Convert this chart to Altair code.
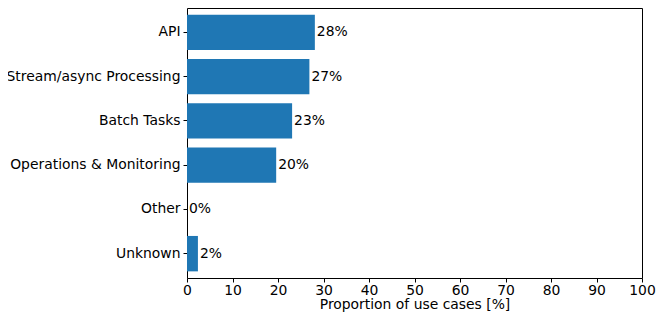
import altair as alt
import pandas as pd

categories = ["API", "Stream/async Processing", "Batch Tasks", "Operations & Monitoring", "Other", "Unknown"]
values = [28.1, 26.9, 23.1, 19.6, 0.0, 2.4]
labels = ["28%", "27%", "23%", "20%", "0%", "2%"]

df = pd.DataFrame({"category": categories, "value": values, "label": labels})

FONT = "DejaVu Sans"
FS = 13.9

y_enc = alt.Y("category:N", sort=categories, title=None,
              scale=alt.Scale(paddingInner=0.2, paddingOuter=0.15))

bars = alt.Chart(df).mark_bar(color="#1f77b4").encode(
    x=alt.X("value:Q", title="Proportion of use cases [%]",
            scale=alt.Scale(domain=[0, 100], nice=False),
            axis=alt.Axis(values=list(range(0, 101, 10)))),
    y=y_enc,
)

text = alt.Chart(df).mark_text(align="left", baseline="middle", dx=2,
                               font=FONT, fontSize=FS, color="black").encode(
    x="value:Q",
    y=alt.Y("category:N", sort=categories),
    text="label:N",
)

chart = (bars + text).properties(
    width=455, height=270,
    autosize=alt.AutoSizeParams(type="none"),
    padding={"left": 179, "top": 0, "right": 14, "bottom": 37},
).configure_view(
    stroke="black", strokeWidth=1
).configure_axis(
    grid=False, domain=False, tickColor="black", tickSize=4, tickWidth=1,
    labelFont=FONT, labelFontSize=FS, labelColor="black",
    titleFont=FONT, titleFontSize=FS, titleColor="black", titleFontWeight="normal",
    labelPadding=3,
).configure_axisX(titlePadding=1, labelPadding=1, labelFlush=False)

chart.save("out.html", embed_options={"renderer": "svg", "actions": False})
